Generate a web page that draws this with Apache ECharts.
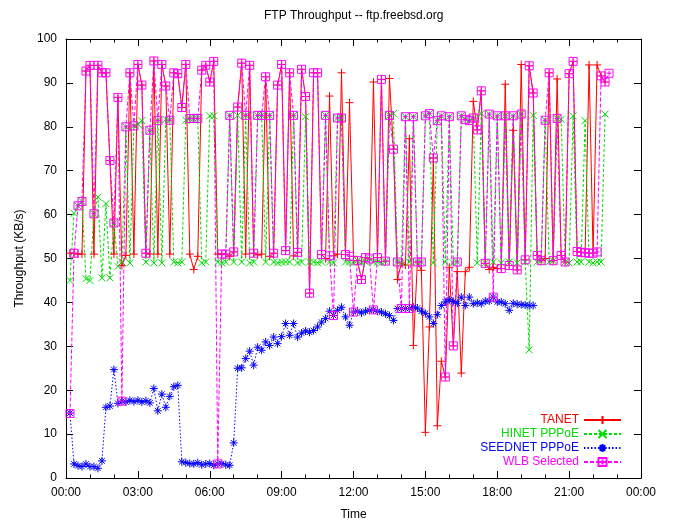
<!DOCTYPE html>
<html>
<head>
<meta charset="utf-8">
<script src="https://cdn.jsdelivr.net/npm/echarts@6/dist/echarts.min.js"></script>
<style>
html, body { margin: 0; padding: 0; background: #fff; }
#chart { width: 674px; height: 522px; }
</style>
</head>
<body>
<div id="chart"></div>
<script>
// sample times, minutes after midnight
var times = [10,20,30,40,50,60,70,80,90,100,110,120,130,140,150,160,170,180,190,200,
  210,220,230,240,250,260,270,280,290,300,310,320,330,340,350,360,370,380,390,400,
  410,420,430,440,450,460,470,480,490,500,510,520,530,540,550,560,570,580,590,600,
  610,620,630,640,650,660,670,680,690,700,710,720,730,740,750,760,770,780,790,800,
  810,820,830,840,850,860,870,880,890,900,910,920,930,940,950,960,970,980,990,1000,
  1010,1020,1030,1040,1050,1060,1070,1080,1090,1100,1110,1120,1130,1140,1150,1160,1170,1180,1190,1200,
  1210,1220,1230,1240,1250,1260,1270,1280,1290,1300,1310,1320,1330,1340,1350,1360];

var tanet = [51.2,51.2,51,51,92.7,94,51,94,92.3,92.3,
  72.3,51,86.7,48.4,50.7,92.3,51,94.2,89.5,51.2,
  51,95,51,94.2,89.3,51,92.3,92.1,84.4,94.2,
  51,47.5,50.5,92.9,94,90.2,94.9,51,51,51,
  50.5,51.5,84.5,94.5,51,94,51.2,50.8,51,91.4,
  50.5,51.2,89.5,94.2,51.8,92.3,50.6,51.4,93.1,86.9,
  42.1,92.3,92.3,50.9,50,87,50.6,51,92.3,50.9,
  85.5,50.5,49.5,45.2,50.2,49.9,90.2,50.2,90.8,49.4,
  91,74.9,45.2,49,48.5,77.3,30.2,49.2,47.3,10.4,
  34.4,72.9,11.9,26.6,23,48,30.1,47,23.9,47,
  48,85.8,79.3,88.2,48.9,47.5,48,47.7,47.7,89.7,
  48.4,79.2,47.4,94.2,49.7,93.9,87.7,50.7,49.5,50,
  92.3,49.5,90.9,50.7,49.2,92.1,94.9,51.6,51.4,51.3,
  94.1,51.2,94.1,91.6,90.2];

var hinet = [45,60.3,62,63,45.4,45,60.2,64,45.6,62.5,
  45.6,58.1,48.2,49.2,80,49,80.2,80.6,81.4,49.2,
  79.2,49,81.4,49,81.7,81.5,49.2,49,49.2,81.5,
  81.9,81.9,81.9,49,49.2,82.5,82.5,49.2,49,49.2,
  82.6,49.2,82.6,49.2,82.6,49,49.2,82.6,82.6,49.2,
  82.6,49.2,49,49.2,49.2,49.2,82.6,49,49.2,82.3,
  49.2,49.2,49,49.2,82.6,49.2,49,82,82,49.2,
  49.2,49,49.5,49.2,49.2,49.9,49.2,49.2,49,49.4,
  82.6,83,49.2,49,82.3,49.2,82.3,49.2,49.2,82.5,
  83,49,81.4,82.5,49.2,82.3,49,49.2,82.5,81.7,
  81.4,82,49,83,49,82.9,49.2,82.5,49,82.5,
  49.2,82.5,49,82.9,49.2,29.2,82.6,49.2,49.5,81.5,
  49.2,49.5,81.9,81.7,49.2,49,82.5,49.2,49.2,81.4,
  49.2,49,49.2,49.2,82.9];

var seednet = [14.8,3.2,2.8,2.6,3.2,2.6,2.6,2.2,3.9,16.1,
  16.4,24.7,17,17.5,17.3,17.7,17.4,17.7,17.3,17.6,
  17.1,20.4,15.3,19.1,16.1,18.6,20.8,21.1,3.7,3.5,
  3.3,3.2,3.5,3.0,3.2,3.3,2.9,3.2,3.3,3.0,
  2.9,8,25,25.1,27.2,28.9,25.7,29.8,29.1,31,
  30.2,32.1,30.6,32.2,35.2,32.5,35.2,32.1,33,33.5,
  33.2,33.6,34.4,35.5,36.3,38,37,38.2,38.9,36.7,
  34.8,37.8,38,37.6,38,38.2,38.3,38,37.8,37.4,
  37,35.9,38.6,38.6,38.6,38.6,38.9,38.7,38,37.5,
  36.7,35.2,37.2,39.3,40.1,40.6,40.2,39.8,41.2,39.3,
  41.2,39.7,39.9,39.7,40.3,40.3,41.2,40.1,40.1,39.7,
  38.2,39.8,39.6,39.5,39.4,39.3,39.3];

var wlb = [14.7,51.2,62,63,92.7,94,60.2,94,92.3,92.3,
  72.3,58.1,86.7,17.5,80,92.3,80.2,94.2,89.5,51.2,
  79.2,95,81.4,94.2,89.3,81.5,92.3,92.1,84.4,94.2,
  81.9,81.9,81.9,92.9,94,90.2,94.9,3.2,51,51,
  82.6,51.5,84.5,94.5,82.6,94,51.2,82.6,82.6,91.4,
  82.6,51.2,89.5,94.2,51.8,92.3,82.6,51.4,93.1,86.9,
  42.1,92.3,92.3,50.9,82.6,50.6,37,82,82,50.9,
  50.5,37.8,49.5,45.2,50.2,49.9,38.3,50.2,90.8,49.4,
  82.6,74.9,49.2,38.6,82.3,38.6,82.3,49.2,49.2,82.5,
  83,72.9,81.4,82.5,23,82.3,30.1,49.2,82.5,81.7,
  81.4,82,79.3,88.2,48.9,82.9,41.2,82.5,47.7,82.5,
  48.4,82.5,47.4,82.9,49.7,93.9,87.7,50.7,49.5,81.5,
  92.3,49.5,81.9,50.7,49.2,92.1,94.9,51.6,51.4,51.3,
  51.2,51.2,51.5,91.6,90.2,92.2];

var font = 'Liberation Sans, Arial, sans-serif';

function makeSeries(name, vals, color, symbol, dash, size) {
  return {
    name: name,
    type: 'line',
    data: vals.map(function (v, i) { return [times[i], v]; }),
    symbol: symbol,
    symbolSize: size,
    showAllSymbol: true,
    lineStyle: { color: color, width: 1, type: dash },
    itemStyle: { color: 'rgba(0,0,0,0)', borderColor: color, borderWidth: 1 },
    emphasis: { disabled: true }
  };
}

function hourLabel(v) {
  var h = Math.round(v / 60) % 24;
  return (h < 10 ? '0' : '') + h + ':00';
}

var frame = { lineStyle: { color: '#000', width: 1 } };
var ticks = { inside: true, length: 7, lineStyle: { color: '#000' } };
var minor = { show: true, splitNumber: 3, length: 3.5, lineStyle: { color: '#000' } };

var chart = echarts.init(document.getElementById('chart'));
chart.setOption({
  animation: false,
  backgroundColor: '#fff',
  title: {
    text: 'FTP Throughput -- ftp.freebsd.org',
    left: 259, top: 5,
    textStyle: { fontSize: 12, fontWeight: 'normal', color: '#000', fontFamily: font }
  },
  grid: { left: 66, right: 33, top: 39, bottom: 44, outerBoundsMode: 'none' },
  legend: {
    orient: 'vertical', align: 'right', right: 47, top: 409,
    itemWidth: 37, itemHeight: 10, itemGap: 2, selectedMode: false,
    textStyle: { fontSize: 12, fontFamily: font },
    data: [
      { name: 'TANET', textStyle: { color: '#ff0000' } },
      { name: 'HINET PPPoE', textStyle: { color: '#00dd00' } },
      { name: 'SEEDNET PPPoE', textStyle: { color: '#0000ff' } },
      { name: 'WLB Selected', textStyle: { color: '#ff00ff' } }
    ]
  },
  xAxis: [{
    type: 'value', min: 0, max: 1440, interval: 180, position: 'bottom',
    axisLine: { onZero: false, lineStyle: frame.lineStyle },
    axisTick: ticks, minorTick: minor,
    splitLine: { show: false }, minorSplitLine: { show: false },
    axisLabel: { formatter: hourLabel, color: '#000', fontSize: 12, margin: 9, fontFamily: font },
    name: 'Time', nameLocation: 'middle', nameGap: 31,
    nameTextStyle: { color: '#000', fontSize: 12, fontFamily: font }
  }, {
    type: 'value', min: 0, max: 1440, interval: 180, position: 'top',
    axisLine: { onZero: false, lineStyle: frame.lineStyle },
    axisTick: ticks, minorTick: minor,
    splitLine: { show: false }, axisLabel: { show: false }
  }],
  yAxis: [{
    type: 'value', min: 0, max: 100, interval: 10, position: 'left',
    axisLine: { show: true, onZero: false, lineStyle: frame.lineStyle },
    axisTick: { show: true, inside: true, length: 7, lineStyle: { color: '#000' } },
    splitLine: { show: false },
    axisLabel: { color: '#000', fontSize: 12, margin: 9, fontFamily: font },
    name: 'Throughput (KB/s)', nameLocation: 'middle', nameGap: 32, nameRotate: 90,
    nameTextStyle: { color: '#000', fontSize: 12, fontFamily: font }
  }, {
    type: 'value', min: 0, max: 100, interval: 10, position: 'right',
    axisLine: { show: true, onZero: false, lineStyle: frame.lineStyle },
    axisTick: { show: true, inside: true, length: 7, lineStyle: { color: '#000' } },
    splitLine: { show: false }, axisLabel: { show: false }
  }],
  series: [
    makeSeries('TANET', tanet, '#ff0000', 'path://M0,5L10,5M5,0L5,10', 'solid', 8),
    makeSeries('HINET PPPoE', hinet, '#00dd00', 'path://M0,0L10,10M10,0L0,10', [3, 2], 7),
    makeSeries('SEEDNET PPPoE', seednet, '#0000ff', 'path://M5,0L5,10M0,5L10,5M1.5,1.5L8.5,8.5M8.5,1.5L1.5,8.5', [1.5, 2], 8),
    makeSeries('WLB Selected', wlb, '#ff00ff', 'path://M0,0L10,0L10,10L0,10ZM5,2L5,8M2,5L8,5', [4, 2], 8)
  ]
});
</script>
</body>
</html>
